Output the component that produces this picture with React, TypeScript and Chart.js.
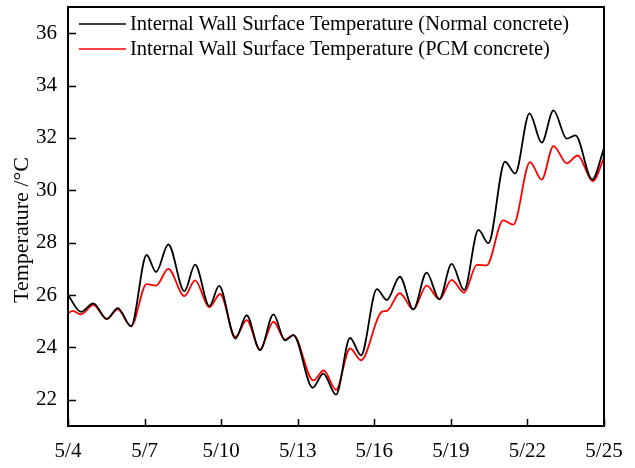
import React, { useEffect, useRef } from "react";
import { Chart, registerables } from "chart.js";

Chart.register(...registerables);

// x values are days since 5/4 (00:00)
const tickLabels = ["5/4", "5/7", "5/10", "5/13", "5/16", "5/19", "5/22", "5/25"];
const yTickValues = [22, 24, 26, 28, 30, 32, 34, 36];

const normalX = [0, 0.51, 0.99, 1.52, 1.95, 2.47, 3.08, 3.45, 3.93, 4.56, 4.98, 5.54, 5.92, 6.56, 7.0, 7.52, 8.05, 8.5, 8.83, 9.59, 10.0, 10.5, 11.05, 11.48, 12.1, 12.49, 13.0, 13.53, 14.05, 14.55, 15.03, 15.52, 16.08, 16.47, 17.12, 17.52, 18.08, 18.56, 19.02, 19.54, 19.88, 20.54, 21.0];
const normalY = [26.0, 25.36, 25.68, 25.09, 25.5, 24.81, 27.53, 26.88, 27.93, 26.15, 27.16, 25.58, 26.35, 24.34, 25.23, 23.89, 25.26, 24.27, 24.47, 22.46, 23.0, 22.2, 24.36, 23.7, 26.23, 25.81, 26.7, 25.45, 26.86, 25.84, 27.19, 26.19, 28.49, 27.98, 31.09, 30.64, 32.94, 31.82, 33.05, 31.97, 32.1, 30.41, 31.6];

const pcmX = [0, 0.18, 0.5, 0.99, 1.52, 1.95, 2.47, 3.08, 3.45, 3.93, 4.56, 4.98, 5.54, 5.96, 6.56, 7.0, 7.52, 8.05, 8.5, 8.83, 9.61, 10.02, 10.5, 11.05, 11.48, 12.29, 12.5, 13.0, 13.53, 14.05, 14.55, 15.03, 15.52, 16.02, 16.4, 17.05, 17.45, 18.1, 18.56, 19.02, 19.54, 19.97, 20.56, 21.0];
const pcmY = [25.3, 25.4, 25.26, 25.63, 25.08, 25.45, 24.81, 26.42, 26.36, 27.0, 25.96, 26.56, 25.53, 26.04, 24.4, 25.04, 23.93, 24.98, 24.3, 24.47, 22.74, 23.12, 22.38, 23.96, 23.51, 25.36, 25.4, 26.07, 25.45, 26.36, 25.84, 26.58, 26.09, 27.15, 27.13, 28.85, 28.69, 31.08, 30.41, 31.69, 31.03, 31.33, 30.35, 31.24];

const FONT = "'Liberation Serif', 'Times New Roman', serif";

const framePlugin = {
  id: "frameAndTicks",
  afterDraw(chart: any) {
    const { ctx, chartArea } = chart;
    const { left, right, top, bottom } = chartArea;
    const xs = chart.scales.x;
    const ys = chart.scales.y;
    ctx.save();
    ctx.strokeStyle = "#000";
    ctx.lineWidth = 1.5;
    // inward ticks
    ctx.beginPath();
    xs.ticks.forEach((t: any) => {
      const px = Math.round(xs.getPixelForValue(t.value)) + 0.5;
      ctx.moveTo(px, bottom);
      ctx.lineTo(px, bottom - 7);
    });
    ys.ticks.forEach((t: any) => {
      const py = Math.round(ys.getPixelForValue(t.value)) + 0.5;
      ctx.moveTo(left, py);
      ctx.lineTo(left + 8, py);
    });
    ctx.stroke();
    // frame
    ctx.lineWidth = 2;
    ctx.strokeRect(left, top, right - left, bottom - top);
    // y title
    ctx.fillStyle = "#000";
    ctx.font = `22px ${FONT}`;
    ctx.textAlign = "center";
    ctx.textBaseline = "middle";
    ctx.translate(22.5, 230);
    ctx.rotate(-Math.PI / 2);
    ctx.fillText("Temperature /°C", 0, 0);
    ctx.restore();
    // legend
    ctx.save();
    ctx.font = `20.5px ${FONT}`;
    ctx.textAlign = "left";
    ctx.textBaseline = "middle";
    chart.data.datasets.forEach((ds: any, i: number) => {
      const y = top + 17 + i * 25;
      ctx.strokeStyle = ds.borderColor;
      ctx.lineWidth = 1.6;
      ctx.beginPath();
      ctx.moveTo(left + 11, y);
      ctx.lineTo(left + 58, y);
      ctx.stroke();
      ctx.fillStyle = "#000";
      ctx.fillText(ds.label, left + 62, y + 1);
    });
    ctx.restore();
  },
};

export default function App() {
  const ref = useRef<HTMLCanvasElement | null>(null);
  useEffect(() => {
    if (!ref.current) return;
    const chart = new Chart(ref.current, {
      type: "line",
      data: {
        datasets: [
          {
            label: "Internal Wall Surface Temperature (Normal concrete)",
            data: normalX.map((x, i) => ({ x, y: normalY[i] })),
            borderColor: "#000000",
            borderWidth: 1.8,
            pointRadius: 0,
            cubicInterpolationMode: "monotone",
          },
          {
            label: "Internal Wall Surface Temperature (PCM concrete)",
            data: pcmX.map((x, i) => ({ x, y: pcmY[i] })),
            borderColor: "#ff0000",
            borderWidth: 1.8,
            pointRadius: 0,
            cubicInterpolationMode: "monotone",
          },
        ],
      },
      options: {
        animation: false,
        responsive: true,
        maintainAspectRatio: false,
        layout: { padding: { top: 7, right: 31, left: 0, bottom: 0 } },
        plugins: { legend: { display: false }, tooltip: { enabled: false } },
        scales: {
          x: {
            type: "linear",
            min: 0,
            max: 21,
            ticks: {
              stepSize: 3,
              autoSkip: false,
              maxRotation: 0,
              padding: 13,
              color: "#000",
              font: { family: FONT, size: 21 },
              callback: (v: any) => tickLabels[Math.round(Number(v) / 3)] ?? "",
            },
            grid: { display: false, drawTicks: false },
            border: { display: false },
            afterFit: (s: any) => {
              s.height = 42;
              s.paddingLeft = 0;
              s.paddingRight = 0;
            },
          },
          y: {
            min: 21,
            max: 37,
            ticks: {
              padding: 11,
              color: "#000",
              font: { family: FONT, size: 21 },
              callback: (v: any) => String(v),
            },
            afterBuildTicks: (s: any) => {
              s.ticks = yTickValues.map((value) => ({ value }));
            },
            grid: { display: false, drawTicks: false },
            border: { display: false },
            afterFit: (s: any) => {
              s.width = 68;
              s.paddingTop = 0;
              s.paddingBottom = 0;
            },
          },
        },
      },
      plugins: [framePlugin],
    });
    return () => chart.destroy();
  }, []);
  return (
    <div style={{ position: "absolute", left: 0, top: 0, width: 635, height: 468, background: "#fff" }}>
      <canvas ref={ref} />
    </div>
  );
}
